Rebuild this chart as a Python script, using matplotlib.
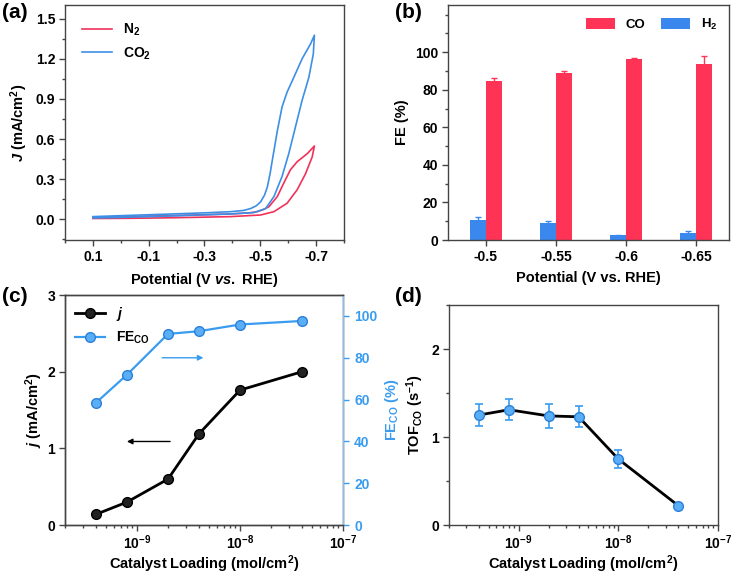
import numpy as np
import matplotlib
matplotlib.use("Agg")
import matplotlib.pyplot as plt
from matplotlib.ticker import MultipleLocator, LogLocator, NullFormatter

plt.rcParams['font.family'] = ['Liberation Sans', 'DejaVu Sans']
plt.rcParams['font.weight'] = 'bold'
plt.rcParams['axes.labelweight'] = 'bold'
plt.rcParams['axes.unicode_minus'] = False
plt.rcParams['mathtext.fontset'] = 'custom'
plt.rcParams['mathtext.rm'] = 'Liberation Sans:bold'
plt.rcParams['mathtext.it'] = 'Liberation Sans:italic:bold'
plt.rcParams['mathtext.bf'] = 'Liberation Sans:bold'

# (a) cyclic voltammograms (closed loops)
E_co2 = [0.10, 0.0, -0.1, -0.2, -0.3, -0.394, -0.44, -0.465, -0.485, -0.501, -0.515,
         -0.525, -0.535, -0.543, -0.561, -0.578, -0.596, -0.62, -0.65, -0.68, -0.694,
         -0.69, -0.674, -0.65, -0.626, -0.602, -0.578, -0.549, -0.519, -0.477,
         -0.394, -0.3, -0.2, -0.1, 0.0, 0.10]
J_co2 = [0.02, 0.027, 0.034, 0.041, 0.048, 0.057, 0.066, 0.08, 0.10, 0.13, 0.18,
         0.24, 0.34, 0.44, 0.66, 0.84, 0.95, 1.06, 1.20, 1.31, 1.376,
         1.235, 1.06, 0.89, 0.69, 0.49, 0.32, 0.17, 0.08, 0.05,
         0.04, 0.033, 0.026, 0.02, 0.014, 0.01]
E_n2 = [0.10, 0.0, -0.1, -0.2, -0.3, -0.394, -0.46, -0.489, -0.51, -0.531, -0.561,
        -0.584, -0.608, -0.632, -0.668, -0.694,
        -0.686, -0.662, -0.632, -0.596, -0.549, -0.501, -0.394, -0.3, -0.2, -0.1, 0.0, 0.10]
J_n2 = [0.012, 0.018, 0.024, 0.029, 0.034, 0.04, 0.048, 0.057, 0.072, 0.094, 0.17,
        0.27, 0.37, 0.43, 0.49, 0.548,
        0.466, 0.34, 0.22, 0.12, 0.057, 0.032, 0.02, 0.016, 0.012, 0.009, 0.007, 0.006]

# (b) faradaic efficiency
potentials = ['-0.5', '-0.55', '-0.6', '-0.65']
fe_co = [84.4, 88.8, 96.3, 93.6]
fe_co_err = [1.7, 1.2, 0.5, 4.3]
fe_h2 = [10.8, 9.3, 2.6, 3.6]
fe_h2_err = [1.7, 1.0, 0.3, 1.2]

# (c), (d) loading series
loading = [4e-10, 8e-10, 2e-9, 4e-9, 1e-8, 4e-8]
j_load = [0.14, 0.30, 0.60, 1.19, 1.76, 2.0]
fe_load = [58.5, 71.9, 91.4, 92.7, 95.9, 97.6]
tof = [1.25, 1.31, 1.24, 1.23, 0.75, 0.22]
tof_err = [0.12, 0.12, 0.14, 0.12, 0.10, 0.03]

red = '#f0325a'
blue = '#3c8fe6'
red_bar = '#ff3355'
blue_bar = '#3a88ee'
sky = '#3a9cf0'
spine_c = '#444444'
TICK = 10
LAB = 10.5

fig = plt.figure(figsize=(7.42, 5.77), dpi=100)
axa = fig.add_axes([0.0876, 0.584, 0.376, 0.407])
axb = fig.add_axes([0.6038, 0.584, 0.3787, 0.407])
axc = fig.add_axes([0.0876, 0.09, 0.3747, 0.3987])
axd = fig.add_axes([0.605, 0.09, 0.3627, 0.3814])


def style(ax):
    for s in ax.spines.values():
        s.set_color(spine_c)
        s.set_linewidth(1.0)
    ax.tick_params(which='major', direction='out', length=4, width=1, color=spine_c,
                   labelsize=TICK, pad=3)
    ax.tick_params(which='minor', direction='out', length=2.5, width=1, color=spine_c)
    for lab in ax.get_xticklabels() + ax.get_yticklabels():
        lab.set_fontweight('bold')


# ---- (a)
axa.plot(E_n2, J_n2, color=red, lw=1.2, label='N$_2$')
axa.plot(E_co2, J_co2, color=blue, lw=1.2, label='CO$_2$')
axa.set_xlim(0.2, -0.8)
axa.set_xticks([0.1, -0.1, -0.3, -0.5, -0.7])
axa.set_xticklabels(['0.1', '-0.1', '-0.3', '-0.5', '-0.7'])
axa.xaxis.set_minor_locator(MultipleLocator(0.2))
axa.set_yticks([0.0, 0.3, 0.6, 0.9, 1.2, 1.5])
axa.yaxis.set_minor_locator(MultipleLocator(0.15))
axa.set_ylim(-0.155, 1.6)
axa.set_xlabel('Potential (V $\\mathit{vs.}$ RHE)', fontsize=LAB, labelpad=5)
axa.set_ylabel('$\\mathit{J}$ (mA/cm$^2$)', fontsize=LAB)
axa.legend(loc='upper left', frameon=False, fontsize=10, handlelength=2.2,
           borderaxespad=0.8, labelspacing=0.5)
style(axa)

# ---- (b)
xb = np.arange(len(potentials))
w = 0.23
axb.bar(xb - w / 2, fe_h2, w, yerr=fe_h2_err, color=blue_bar, label='H$_2$',
        error_kw=dict(ecolor=blue_bar, capsize=2.5, lw=1))
axb.bar(xb + w / 2, fe_co, w, yerr=fe_co_err, color=red_bar, label='CO',
        error_kw=dict(ecolor=red_bar, capsize=2.5, lw=1))
axb.set_xlim(-0.54, 3.47)
axb.set_ylim(0, 125)
axb.set_xticks(xb)
axb.set_xticklabels(potentials)
axb.set_yticks([0, 20, 40, 60, 80, 100])
axb.yaxis.set_minor_locator(MultipleLocator(10))
axb.set_xlabel('Potential (V vs. RHE)', fontsize=LAB, labelpad=5)
axb.set_ylabel('FE (%)', fontsize=LAB)
h, l = axb.get_legend_handles_labels()
axb.legend(h[::-1], l[::-1], loc='upper right', ncol=2, frameon=False, fontsize=9.5,
           handlelength=2.2, handleheight=1.0, columnspacing=1.2, borderaxespad=0.5)
style(axb)

# ---- (c)
axc2 = axc.twinx()
l1, = axc.plot(loading, j_load, color='black', lw=2, marker='o', ms=7,
               mfc='#222222', mec='black')
l2, = axc2.plot(loading, fe_load, color=sky, lw=1.6, marker='o', ms=7,
                mfc='#5aaef5', mec='#2a80d8')
axc.set_xscale('log')
axc.set_xlim(2e-10, 1e-7)
axc.set_ylim(0, 3)
axc2.set_ylim(0, 110)
axc.set_yticks([0, 1, 2, 3])
axc2.set_yticks([0, 20, 40, 60, 80, 100])
axc.xaxis.set_major_locator(LogLocator(base=10, numticks=10))
axc.xaxis.set_minor_locator(LogLocator(base=10, subs=np.arange(2, 10), numticks=10))
axc.xaxis.set_minor_formatter(NullFormatter())
axc.set_xlabel('Catalyst Loading (mol/cm$^2$)', fontsize=LAB, labelpad=1)
axc.set_ylabel('$\\mathit{j}$ (mA/cm$^2$)', fontsize=LAB, labelpad=2)
axc2.set_ylabel('FE$_{\\mathrm{CO}}$ (%)', fontsize=LAB, color=sky)
axc.annotate('', xy=(4.7e-9, 80), xytext=(1.65e-9, 80), xycoords=axc2.transData,
             textcoords=axc2.transData,
             arrowprops=dict(arrowstyle='-|>', color=sky, lw=1, mutation_scale=8))
axc.annotate('', xy=(7.5e-10, 1.09), xytext=(2.23e-9, 1.09),
             arrowprops=dict(arrowstyle='-|>', color='black', lw=1, mutation_scale=8))
axc.legend([l1, l2], ['$\\mathit{j}$', 'FE$_{\\mathrm{CO}}$'], loc='upper left',
           frameon=False, fontsize=10, handlelength=2.2, borderaxespad=0.3)
style(axc)
style(axc2)
axc.tick_params(axis='x', which='major', pad=2)
axc2.tick_params(axis='y', pad=4)
axc2.spines['right'].set_color('#8fbbe6')
axc2.tick_params(axis='y', colors=sky, labelcolor=sky)

# ---- (d)
axd.errorbar(loading, tof, yerr=tof_err, color='black', lw=2, marker='o', ms=7,
             mfc='#5aaef5', mec='#2a80d8', ecolor=sky, elinewidth=1.2, capsize=3,
             capthick=1.2)
axd.set_xscale('log')
axd.set_xlim(2e-10, 1e-7)
axd.set_ylim(0, 2.5)
axd.set_yticks([0, 1, 2])
axd.yaxis.set_minor_locator(MultipleLocator(0.5))
axd.xaxis.set_major_locator(LogLocator(base=10, numticks=10))
axd.xaxis.set_minor_locator(LogLocator(base=10, subs=np.arange(2, 10), numticks=10))
axd.xaxis.set_minor_formatter(NullFormatter())
axd.set_xlabel('Catalyst Loading (mol/cm$^2$)', fontsize=LAB, labelpad=1)
axd.set_ylabel('TOF$_{\\mathrm{CO}}$ (s$^{-1}$)', fontsize=LAB)
style(axd)
axd.tick_params(axis='x', which='major', pad=2)

for lab, x, y in [('(a)', 0.003, 0.995), ('(b)', 0.532, 0.995), ('(c)', 0.003, 0.502),
                  ('(d)', 0.532, 0.502)]:
    fig.text(x, y, lab, fontsize=15, fontweight='bold', va='top', ha='left')

fig.savefig('out.png', dpi=100)
